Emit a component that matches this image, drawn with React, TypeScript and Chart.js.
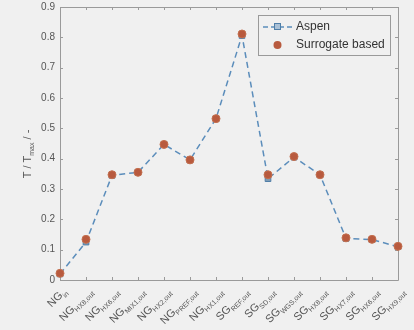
import React, { useEffect, useRef } from "react";
import { Chart, registerables } from "chart.js";
Chart.register(...registerables);

const categoryMain = ["NG", "NG", "NG", "NG", "NG", "NG", "NG", "SG", "SG", "SG", "SG", "SG", "SG", "SG"];
const categorySub = ["in", "HX8,out", "HX6,out", "MIX1,out", "HX2,out", "PREF,out", "HX1,out", "REF,out", "SD,out", "WGS,out", "HX8,out", "HX7,out", "HX6,out", "HX9,out"];
const aspenValues = [0.02, 0.125, 0.345, 0.355, 0.447, 0.396, 0.532, 0.806, 0.334, 0.405, 0.347, 0.137, 0.133, 0.11];
const surrogateValues = [0.022, 0.134, 0.347, 0.355, 0.447, 0.396, 0.532, 0.811, 0.347, 0.407, 0.347, 0.139, 0.134, 0.111];
const yTickValues = [0, 0.1, 0.2, 0.3, 0.4, 0.5, 0.6, 0.7, 0.8, 0.9];
const yTickLabels = ["0", "0.1", "0.2", "0.3", "0.4", "0.5", "0.6", "0.7", "0.8", "0.9"];
const seriesNames = ["Aspen", "Surrogate based"];
const yTitleMain = "T / T";
const yTitleSub = "max";
const yTitleTail = " / -";

const BG = "#f0f0f0";
const AXIS = "#9a9a9a";
const TEXT = "#555555";
const BLUE = "#5b8dbb";
const RED = "#b85a3e";
const FONT = '"Liberation Sans", Arial, sans-serif';

const decorPlugin = {
  id: "decor",
  beforeDraw(chart: any) {
    const { ctx, width, height } = chart;
    ctx.save();
    ctx.fillStyle = BG;
    ctx.fillRect(0, 0, width, height);
    ctx.restore();
  },
  beforeDatasetsDraw(chart: any) {
    const { ctx, chartArea } = chart;
    const { left, right, top, bottom } = chartArea;
    const xs = chart.scales.x;
    const ys = chart.scales.y;
    ctx.save();
    ctx.strokeStyle = AXIS;
    ctx.lineWidth = 1;
    ctx.beginPath();
    ctx.rect(Math.round(left) + 0.5, Math.round(top) + 0.5, Math.round(right - left), Math.round(bottom - top));
    ctx.stroke();
    ctx.beginPath();
    yTickValues.forEach((v) => {
      const y = Math.round(ys.getPixelForValue(v)) + 0.5;
      ctx.moveTo(left, y);
      ctx.lineTo(left + 3, y);
      ctx.moveTo(right, y);
      ctx.lineTo(right - 3, y);
    });
    categoryMain.forEach((_, i) => {
      const x = Math.round(xs.getPixelForValue(i)) + 0.5;
      ctx.moveTo(x, bottom);
      ctx.lineTo(x, bottom - 3);
      ctx.moveTo(x, top);
      ctx.lineTo(x, top + 3);
    });
    ctx.stroke();
    ctx.restore();
  },
  afterDraw(chart: any) {
    const { ctx, chartArea } = chart;
    const { bottom } = chartArea;
    const xs = chart.scales.x;
    ctx.save();
    ctx.fillStyle = TEXT;
    // x labels with subscripts
    categoryMain.forEach((m, i) => {
      const sub = categorySub[i];
      const x = xs.getPixelForValue(i);
      ctx.save();
      ctx.translate(x + 5, bottom + 10);
      ctx.rotate(-Math.PI / 4);
      ctx.font = `11px ${FONT}`;
      const wm = ctx.measureText(m).width;
      ctx.font = `7px ${FONT}`;
      const ws = ctx.measureText(sub).width;
      const total = wm + ws;
      ctx.textAlign = "left";
      ctx.textBaseline = "alphabetic";
      ctx.font = `11px ${FONT}`;
      ctx.fillText(m, -total, 3);
      ctx.font = `7px ${FONT}`;
      ctx.fillText(sub, -total + wm, 6);
      ctx.restore();
    });
    // y title
    ctx.save();
    ctx.translate(31, 154);
    ctx.rotate(-Math.PI / 2);
    ctx.font = `11px ${FONT}`;
    const w1 = ctx.measureText(yTitleMain).width;
    const w3 = ctx.measureText(yTitleTail).width;
    ctx.font = `7px ${FONT}`;
    const w2 = ctx.measureText(yTitleSub).width;
    const start = -(w1 + w2 + w3) / 2;
    ctx.textBaseline = "alphabetic";
    ctx.textAlign = "left";
    ctx.font = `11px ${FONT}`;
    ctx.fillText(yTitleMain, start, 0);
    ctx.font = `7px ${FONT}`;
    ctx.fillText(yTitleSub, start + w1, 3);
    ctx.font = `11px ${FONT}`;
    ctx.fillText(yTitleTail, start + w1 + w2, 0);
    ctx.restore();
    // legend
    const lx = 258, ly = 15, lw = 132, lh = 40;
    ctx.fillStyle = BG;
    ctx.fillRect(lx, ly, lw, lh);
    ctx.strokeStyle = AXIS;
    ctx.lineWidth = 1;
    ctx.strokeRect(lx + 0.5, ly + 0.5, lw, lh);
    // aspen entry
    ctx.strokeStyle = BLUE;
    ctx.lineWidth = 1.5;
    ctx.setLineDash([5, 3]);
    ctx.beginPath();
    ctx.moveTo(263, 27);
    ctx.lineTo(292, 27);
    ctx.stroke();
    ctx.setLineDash([]);
    ctx.fillStyle = "#a9c0d6";
    ctx.fillRect(274, 23, 7, 7);
    ctx.lineWidth = 1;
    ctx.strokeStyle = "#4f7ea8";
    ctx.strokeRect(274.5, 23.5, 6, 6);
    // surrogate entry
    ctx.fillStyle = RED;
    ctx.beginPath();
    ctx.arc(277.5, 45, 4, 0, Math.PI * 2);
    ctx.fill();
    ctx.fillStyle = "#333333";
    ctx.font = `12px ${FONT}`;
    ctx.textBaseline = "middle";
    ctx.textAlign = "left";
    ctx.fillText(seriesNames[0], 296, 27);
    ctx.fillText(seriesNames[1], 296, 45);
    ctx.restore();
  },
};

export default function App() {
  const ref = useRef<HTMLCanvasElement | null>(null);
  useEffect(() => {
    if (!ref.current) return;
    const labels = categoryMain.map((m, i) => `${m}_${categorySub[i]}`);
    const chart = new Chart(ref.current, {
      type: "line",
      data: {
        labels,
        datasets: [
          {
            label: seriesNames[1],
            data: surrogateValues,
            showLine: false,
            pointStyle: "circle",
            pointRadius: 4,
            pointBackgroundColor: RED,
            pointBorderColor: "#c4704f",
            pointBorderWidth: 1,
            order: 0,
          },
          {
            label: seriesNames[0],
            data: aspenValues,
            borderColor: BLUE,
            borderWidth: 1.5,
            borderDash: [6, 4],
            tension: 0,
            pointStyle: "rect",
            pointRadius: 4,
            pointBackgroundColor: "#7f9cb5",
            pointBorderColor: "#4f7ea8",
            pointBorderWidth: 1,
            order: 1,
          },
        ],
      },
      options: {
        animation: false,
        responsive: false,
        maintainAspectRatio: false,
        layout: { padding: { left: 0, right: 16, top: 7, bottom: 0 } },
        plugins: { legend: { display: false }, tooltip: { enabled: false } },
        scales: {
          x: {
            type: "category",
            offset: false,
            grid: { display: false, drawTicks: false },
            border: { display: false },
            ticks: { display: false },
            afterFit: (s: any) => {
              s.height = 50;
              s.paddingLeft = 0;
              s.paddingRight = 0;
            },
          },
          y: {
            min: 0,
            max: 0.9,
            grid: { display: false, drawTicks: false },
            border: { display: false },
            ticks: {
              stepSize: 0.1,
              padding: 5,
              color: TEXT,
              font: { family: FONT, size: 10 },
              callback: (_v: any, i: number) => yTickLabels[i],
            },
            afterFit: (s: any) => {
              s.width = 60;
              s.paddingTop = 0;
              s.paddingBottom = 0;
            },
          },
        },
      },
      plugins: [decorPlugin],
    });
    return () => chart.destroy();
  }, []);
  return (
    <div style={{ position: "fixed", left: 0, top: 0, width: 414, height: 330, background: BG }}>
      <canvas ref={ref} width={414} height={330} style={{ display: "block" }} />
    </div>
  );
}
